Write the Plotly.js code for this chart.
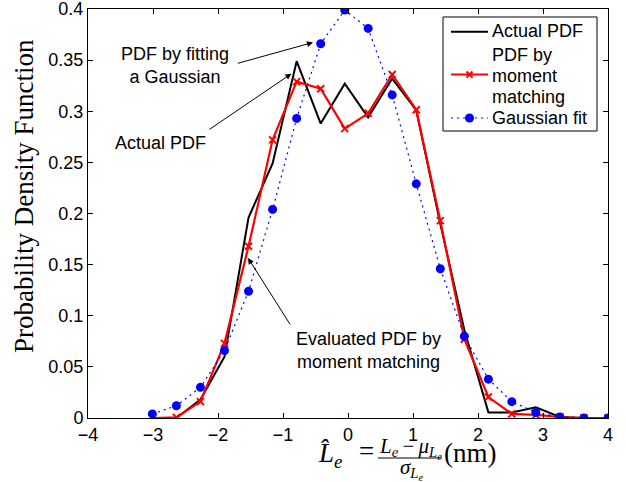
<!DOCTYPE html>
<html>
<head>
<meta charset="utf-8">
<script src="https://cdn.plot.ly/plotly-3.0.1.min.js"></script>
<style>html,body{margin:0;padding:0;background:#fff;}#chart{width:626px;height:482px;}</style>
</head>
<body>
<div id="chart"></div>
<script>
// ---- data ----
var xVals = [-3.01, -2.64, -2.27, -1.90, -1.53, -1.16, -0.79, -0.42, -0.05, 0.31, 0.68, 1.05, 1.42, 1.79, 2.16, 2.52, 2.89, 3.26, 3.63, 4.00];
var actualPdf = [0.0, 0.0, 0.018, 0.060, 0.196, 0.249, 0.349, 0.288, 0.327, 0.294, 0.332, 0.301, 0.190, 0.086, 0.0055, 0.0055, 0.0104, 0.001, 0.0, 0.0];
var momentPdf = [0.0, 0.0006, 0.016, 0.073, 0.168, 0.272, 0.329, 0.322, 0.283, 0.298, 0.336, 0.3015, 0.193, 0.077, 0.0205, 0.004, 0.003, 0.001, 0.0, 0.0];
var gaussFit = [0.004, 0.012, 0.030, 0.066, 0.124, 0.204, 0.293, 0.366, 0.399, 0.381, 0.316, 0.229, 0.146, 0.080, 0.038, 0.016, 0.0055, 0.001, 0.0, 0.0];
var seriesNames = ['Actual PDF', 'PDF by moment matching', 'Gaussian fit'];
var legendLines = [['Actual PDF'], ['PDF by', 'moment', 'matching'], ['Gaussian fit']];
var xTickVals = [-4, -3, -2, -1, 0, 1, 2, 3, 4];
var xTickText = ['\u22124', '\u22123', '\u22122', '\u22121', '0', '1', '2', '3', '4'];
var yTickVals = [0, 0.05, 0.1, 0.15, 0.2, 0.25, 0.3, 0.35, 0.4];
var yTickText = ['0', '0.05', '0.1', '0.15', '0.2', '0.25', '0.3', '0.35', '0.4'];

var SANS = 'Liberation Sans, Arial, Helvetica, sans-serif';
var SERIF = 'Liberation Serif, Times New Roman, serif';
var BLACK = 'black', RED = 'rgb(255,0,0)', BLUE = 'rgb(0,0,255)';

// pixel -> paper helpers (plot area: x 88..608, y 9..418)
function PX(p) { return (p - 88) / 520; }
function PY(p) { return (418 - p) / 409; }

var traces = [
  { x: xVals, y: actualPdf, name: seriesNames[0], type: 'scatter', mode: 'lines',
    line: { color: BLACK, width: 2 } },
  { x: xVals, y: momentPdf, name: seriesNames[1], type: 'scatter', mode: 'lines+markers',
    line: { color: RED, width: 2.2 },
    marker: { symbol: 'x-thin', size: 7, color: RED, line: { color: RED, width: 2 } } },
  { x: xVals, y: gaussFit, name: seriesNames[2], type: 'scatter', mode: 'lines+markers',
    line: { color: BLUE, width: 1.2, dash: '2px,4px' },
    marker: { symbol: 'circle', size: 9, color: BLUE } }
];

function arrow(hx, hy, tx, ty) {
  return { x: hx, y: hy, xref: 'x', yref: 'y', ax: tx, ay: ty, axref: 'x', ayref: 'y',
    text: ' ', font: { size: 1 }, showarrow: true, arrowhead: 2, arrowsize: 1.2, arrowwidth: 1,
    arrowcolor: BLACK, standoff: 0, startstandoff: 0 };
}
function label(txt, x, y) {
  return { x: x, y: y, xref: 'x', yref: 'y', text: txt, showarrow: false,
    font: { family: SANS, size: 18, color: BLACK }, xanchor: 'center', yanchor: 'middle' };
}
function ptext(txt, x, y, size, xa, fam) {
  return { x: PX(x), y: PY(y), xref: 'paper', yref: 'paper', text: txt, showarrow: false,
    font: { family: fam || SERIF, size: size, color: BLACK }, xanchor: xa || 'center', yanchor: 'middle' };
}

var annotations = [
  arrow(-0.538, 0.3673, -1.717, 0.3465),
  arrow(-0.871, 0.3367, -2.154, 0.2813),
  arrow(-1.538, 0.1565, -0.871, 0.0896),
  label('PDF by fitting<br>a Gaussian', -2.667, 0.345),
  label('Actual PDF', -2.882, 0.269),
  label('Evaluated PDF by<br>moment matching', 0.311, 0.0658),
  // x-axis title (formula)
  ptext('<i>L\u0302<sub>e</sub></i>', 316, 455, 27, 'left'),
  ptext('=', 366, 451, 27),
  ptext('<i>L<sub>e</sub></i>\u2009\u2212\u2009<i>\u03bc<sub>L<sub>e</sub></sub></i>', 410, 448, 21),
  ptext('<i>\u03c3<sub>L<sub>e</sub></sub></i>', 412, 469, 21),
  ptext('(nm)', 442, 453, 27, 'left'),
  // y-axis title
  { x: PX(24), y: PY(196), xref: 'paper', yref: 'paper', text: 'Probability Density Function',
    showarrow: false, textangle: -90, font: { family: SERIF, size: 27, color: BLACK },
    xanchor: 'center', yanchor: 'middle' }
];

// legend (drawn as a boxed key, MATLAB style)
var legendTextY = [[31.5], [54.5, 75.8, 97], [117.5]];
for (var i = 0; i < legendLines.length; i++) {
  for (var j = 0; j < legendLines[i].length; j++) {
    annotations.push(ptext(legendLines[i][j], 490, legendTextY[i][j], 18, 'left', SANS));
  }
}

var shapes = [
  // fraction bar
  { type: 'line', xref: 'paper', yref: 'paper', x0: PX(378), x1: PX(442), y0: PY(458), y1: PY(458),
    line: { color: BLACK, width: 1 } },
  // legend box
  { type: 'rect', xref: 'paper', yref: 'paper', layer: 'above', x0: PX(443), x1: PX(597), y0: PY(17), y1: PY(131),
    fillcolor: 'white', line: { color: BLACK, width: 1 } },
  // legend samples
  { type: 'line', xref: 'paper', yref: 'paper', x0: PX(451), x1: PX(488), y0: PY(31.7), y1: PY(31.7),
    line: { color: BLACK, width: 2 } },
  { type: 'line', xref: 'paper', yref: 'paper', x0: PX(451), x1: PX(488), y0: PY(74.5), y1: PY(74.5),
    line: { color: RED, width: 2.2 } },
  { type: 'line', xref: 'paper', yref: 'paper', x0: PX(466.5), x1: PX(472.5), y0: PY(71.5), y1: PY(77.5),
    line: { color: RED, width: 2 } },
  { type: 'line', xref: 'paper', yref: 'paper', x0: PX(466.5), x1: PX(472.5), y0: PY(77.5), y1: PY(71.5),
    line: { color: RED, width: 2 } },
  { type: 'line', xref: 'paper', yref: 'paper', x0: PX(451), x1: PX(488), y0: PY(118), y1: PY(118),
    line: { color: BLUE, width: 1.2, dash: '2px,4px' } },
  { type: 'circle', xref: 'paper', yref: 'paper', x0: PX(465), x1: PX(474), y0: PY(113.5), y1: PY(122.5),
    fillcolor: BLUE, line: { color: BLUE, width: 0 } }
];

var axisCommon = { showgrid: false, zeroline: false, showline: true, linecolor: BLACK, linewidth: 1,
  mirror: 'ticks', ticks: 'inside', ticklen: 5, tickcolor: BLACK, ticklabeloverflow: 'allow',
  tickfont: { family: SANS, size: 18, color: BLACK } };

var layout = {
  width: 626, height: 482,
  margin: { l: 88, r: 18, t: 9, b: 64, pad: 0 },
  paper_bgcolor: 'white', plot_bgcolor: 'white',
  font: { family: SANS, size: 18, color: BLACK },
  showlegend: false,
  xaxis: Object.assign({ range: [-4, 4], tickmode: 'array', tickvals: xTickVals, ticktext: xTickText }, axisCommon),
  yaxis: Object.assign({ range: [0, 0.4], tickmode: 'array', tickvals: yTickVals, ticktext: yTickText }, axisCommon),
  shapes: shapes,
  annotations: annotations
};

Plotly.newPlot('chart', traces, layout, { staticPlot: true, displayModeBar: false });
</script>
</body>
</html>
